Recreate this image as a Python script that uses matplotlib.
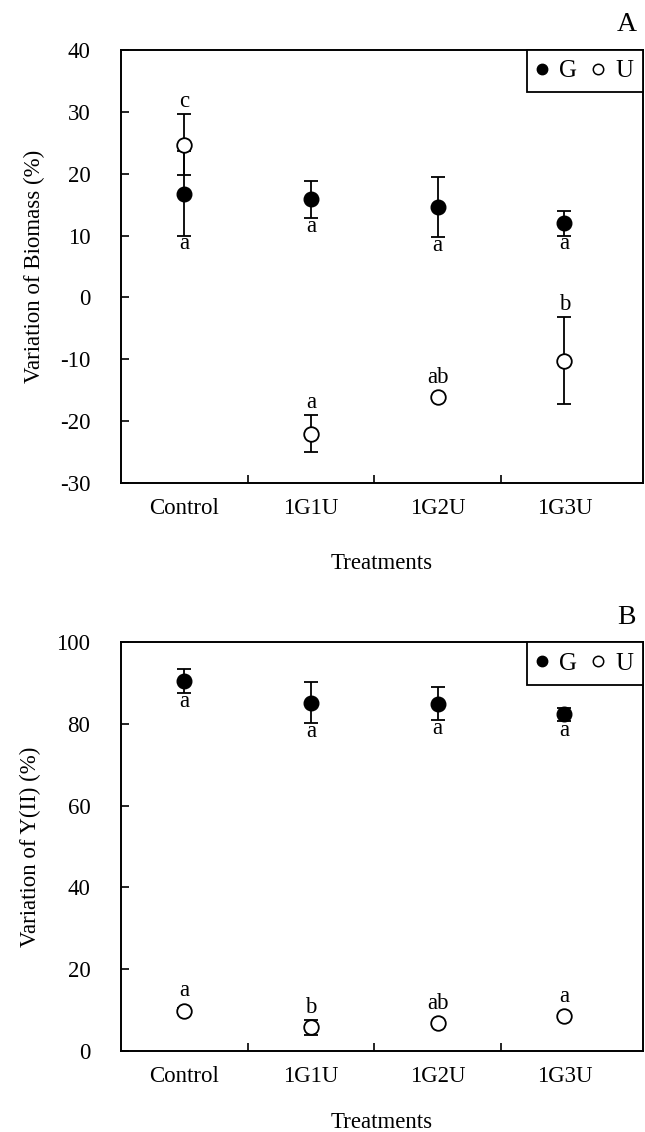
import numpy as np
import matplotlib
matplotlib.use('Agg')
import matplotlib.pyplot as plt
from matplotlib.lines import Line2D

plt.rcParams["font.family"] = ["Liberation Serif", "DejaVu Serif"]
plt.rcParams["font.size"] = 16.5
plt.rcParams["axes.unicode_minus"] = False

# Data
treatments = ['Control', '1G1U', '1G2U', '1G3U']

# Panel A: variation of biomass (%)
biomass_G     = [16.8, 15.9, 14.6, 12.0]
biomass_G_err = [6.8, 3.0, 4.9, 2.0]
biomass_U     = [24.7, -22.0, -16.1, -10.2]
biomass_U_err = [4.9, 3.0, 0.4, 7.0]
biomass_G_letters = ['a', 'a', 'a', 'a']
biomass_U_letters = ['c', 'a', 'ab', 'b']

# Panel B: variation of Y(II) (%)
yii_G     = [90.5, 85.2, 84.9, 82.3]
yii_G_err = [3.0, 5.0, 4.0, 1.6]
yii_U     = [9.9, 5.8, 6.9, 8.6]
yii_U_err = [0.5, 1.8, 0.4, 0.5]
yii_G_letters = ['a', 'a', 'a', 'a']
yii_U_letters = ['a', 'b', 'ab', 'a']

W, H = 645, 1132
fig = plt.figure(figsize=(W / 100, H / 100), dpi=100)

MS = 10.5  # marker size (pt)


def panel(rect, G, Gerr, U, Uerr, Glet, Ulet, ylim, yticks, ylabel, tag, xpad):
    ax = fig.add_axes(rect)
    x = np.arange(len(treatments))
    ax.errorbar(x, G, yerr=Gerr, fmt='o', color='black', ms=MS, mfc='black',
                mec='black', elinewidth=1.3, capsize=5, capthick=1.3, zorder=3)
    ax.errorbar(x, U, yerr=Uerr, fmt='o', color='black', ms=MS, mfc='white',
                mec='black', mew=1.3, elinewidth=1.3, capsize=5, capthick=1.3,
                zorder=3)
    ax.set_xlim(-0.5, 3.62)
    ax.set_ylim(*ylim)
    ax.set_yticks(yticks)
    ax.set_xticks(x)
    ax.set_xticklabels(treatments)
    ax.set_xticks([0.5, 1.5, 2.5], minor=True)
    ax.tick_params(axis='x', which='major', length=0, pad=11)
    ax.tick_params(axis='x', which='minor', direction='in', length=6, width=1.2)
    ax.tick_params(axis='y', direction='in', length=6, width=1.2, pad=22)
    for s in ax.spines.values():
        s.set_linewidth(1.4)
    ax.set_xlabel('Treatments', labelpad=xpad)
    ax.set_ylabel(ylabel, labelpad=11)

    # points per data unit for placing the letters
    pos = ax.get_position()
    ppu = pos.height * H / 100 * 72 / (ylim[1] - ylim[0])
    r = MS / 2
    for i in range(len(treatments)):
        e = max(Gerr[i] * ppu, r)
        ax.annotate(Glet[i], (x[i], G[i]), xytext=(0, -(e + 10)),
                    textcoords='offset points', ha='center', va='baseline')
        e = max(Uerr[i] * ppu, r)
        ax.annotate(Ulet[i], (x[i], U[i]), xytext=(0, e + 5),
                    textcoords='offset points', ha='center', va='baseline')

    handles = [Line2D([], [], ls='none', marker='o', ms=7.5, mfc='black', mec='black'),
               Line2D([], [], ls='none', marker='o', ms=7.5, mfc='white', mec='black', mew=1.1)]
    leg = ax.legend(handles, ['G', 'U'], loc='upper right', ncol=2,
                    borderaxespad=0, fancybox=False, framealpha=1,
                    edgecolor='black', handlelength=0.4, handletextpad=0.5,
                    columnspacing=0.6, borderpad=0.4, fontsize=18)
    leg.get_frame().set_linewidth(1.3)
    ax.text(0.968, 1.045, tag, transform=ax.transAxes, ha='center',
            va='baseline', fontsize=20)
    return ax


panel([121 / W, 1 - 483 / H, 522 / W, 433 / H],
      biomass_G, biomass_G_err, biomass_U, biomass_U_err,
      biomass_G_letters, biomass_U_letters,
      (-30, 40), [-30, -20, -10, 0, 10, 20, 30, 40],
      'Variation of Biomass (%)', 'A', 24)

panel([121 / W, 1 - 1051 / H, 522 / W, 409 / H],
      yii_G, yii_G_err, yii_U, yii_U_err,
      yii_G_letters, yii_U_letters,
      (0, 100), [0, 20, 40, 60, 80, 100],
      'Variation of Y(II) (%)', 'B', 18)

fig.savefig('out.png', dpi=100)
